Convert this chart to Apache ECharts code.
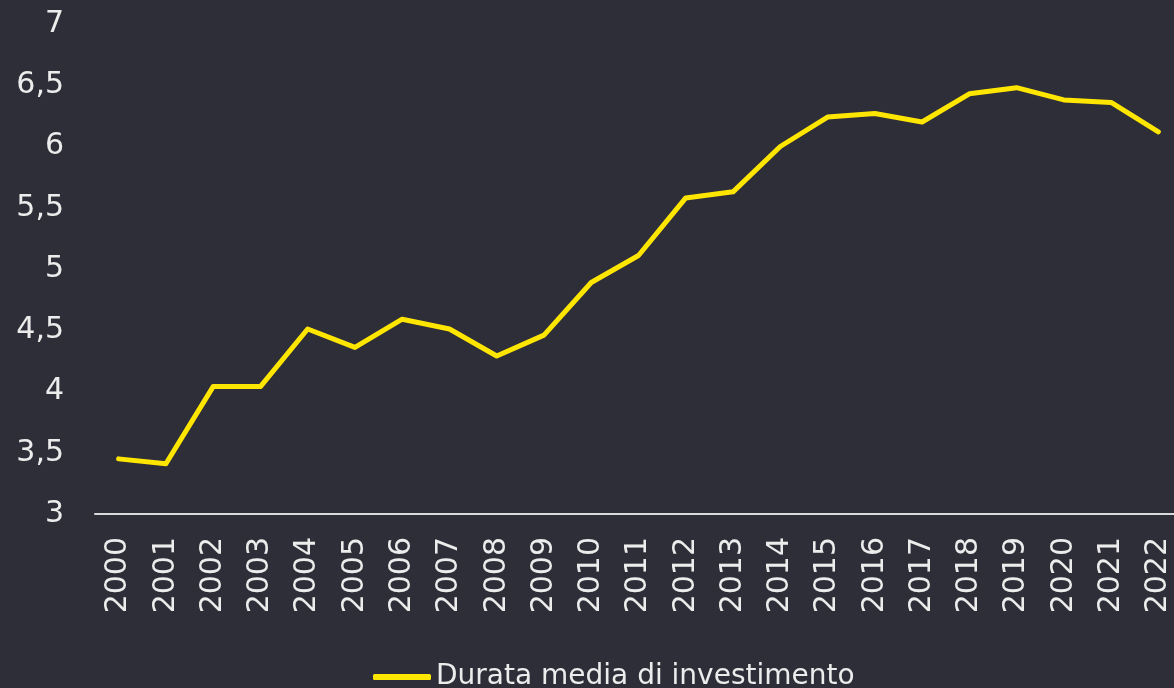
<!DOCTYPE html>
<html>
<head>
<meta charset="utf-8">
<script src="https://cdn.jsdelivr.net/npm/echarts@6/dist/echarts.min.js"></script>
<style>
  html, body { margin: 0; padding: 0; background: #2e2e38; }
  #chart { width: 1174px; height: 688px; }
</style>
</head>
<body>
<div id="chart"></div>
<script>
const years = ['2000','2001','2002','2003','2004','2005','2006','2007','2008','2009','2010',
  '2011','2012','2013','2014','2015','2016','2017','2018','2019','2020','2021','2022']
const durata = [3.45, 3.41, 4.04, 4.04, 4.51, 4.36, 4.59, 4.51, 4.29, 4.46, 4.89,
  5.11, 5.58, 5.63, 6.0, 6.24, 6.27, 6.2, 6.43, 6.48, 6.38, 6.36, 6.12]
const seriesName = 'Durata media di investimento'

const textColor = '#ececec'
const font = 'DejaVu Sans'

const chart = echarts.init(document.getElementById('chart'))
chart.setOption({
  backgroundColor: '#2e2e38',
  animation: false,
  // the plot runs a little past the right edge of the picture
  grid: { left: 95, width: 1087, top: 24, bottom: 174, outerBoundsMode: 'none' },
  legend: {
    bottom: -8,
    left: 368,
    itemWidth: 58,
    itemHeight: 6,
    itemGap: 4,
    textStyle: { color: textColor, fontFamily: font, fontSize: 28 },
    data: [{ name: seriesName, icon: 'roundRect' }]
  },
  xAxis: {
    type: 'category',
    data: years,
    boundaryGap: true,
    axisLine: { lineStyle: { color: '#d9d9d9', width: 2 } },
    axisTick: { show: false },
    axisLabel: {
      rotate: 90,
      margin: 23,
      interval: 0,
      color: textColor,
      fontFamily: font,
      fontSize: 30
    }
  },
  yAxis: {
    type: 'value',
    min: 3,
    max: 7,
    interval: 0.5,
    axisLine: { show: false },
    axisTick: { show: false },
    splitLine: { show: false },
    axisLabel: {
      margin: 31,
      color: textColor,
      fontFamily: font,
      fontSize: 30,
      formatter: v => String(v).replace('.', ',')
    }
  },
  series: [
    {
      name: seriesName,
      type: 'line',
      data: durata,
      symbol: 'none',
      itemStyle: { color: '#ffe600' },
      lineStyle: { color: '#ffe600', width: 5, cap: 'round', join: 'round' }
    }
  ]
})
</script>
</body>
</html>
